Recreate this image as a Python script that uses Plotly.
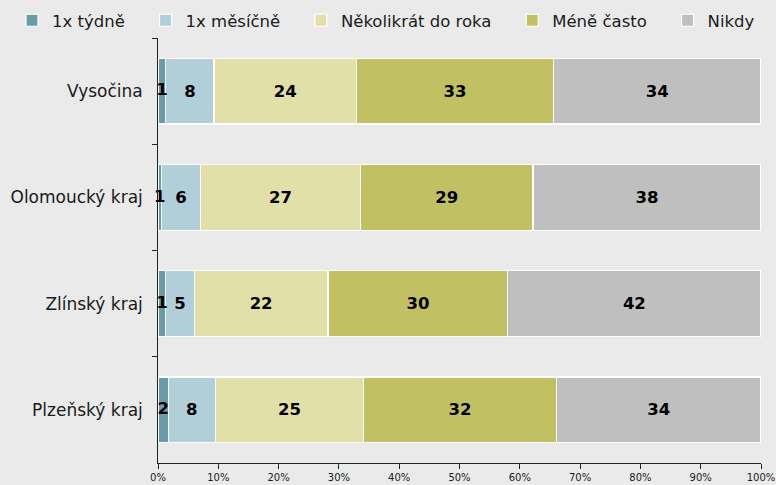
import plotly.graph_objects as go

# Regions, listed top to bottom
regions = ["Vysočina", "Olomoucký kraj", "Zlínský kraj", "Plzeňský kraj"]

# Share of respondents (%) per answer
weekly = [1.3, 0.6, 1.3, 1.7]
monthly = [8.0, 6.4, 4.7, 7.8]
few_times_year = [23.6, 26.6, 22.2, 24.6]
less_often = [32.7, 28.6, 29.8, 32.0]
never = [34.4, 37.8, 42.0, 33.9]

series_names = ["1x týdně", "1x měsíčně", "Několikrát do roka", "Méně často", "Nikdy"]
series_values = [weekly, monthly, few_times_year, less_often, never]
series_colors = ["#6A9BA8", "#B0CFD8", "#E1E0A8", "#C1C062", "#BFBFBF"]

tick_vals = list(range(0, 101, 10))
tick_text = [f"{v}%" for v in tick_vals]

W, H = 776, 485
M_L, M_R, M_T, M_B = 158, 15, 38, 22
plot_w = W - M_L - M_R
plot_h = H - M_T - M_B

LABEL_FONT = dict(color="black", size=16.5, family="DejaVu Sans")

# extra spacing after each legend entry (none after the last one)
legend_pad = "\u00a0" * 3

fig = go.Figure()
for i, (name, vals, color) in enumerate(zip(series_names, series_values, series_colors)):
    pad = legend_pad if i < len(series_names) - 1 else ""
    # the narrow first segment gets its label from a text layer on top (below)
    labels = [f"<b>{v:.0f}</b>" for v in vals] if i > 0 else None
    fig.add_trace(go.Bar(
        y=regions,
        x=vals,
        name=name + pad,
        orientation="h",
        marker=dict(color=color, line=dict(color="white", width=1.2)),
        text=labels,
        textposition="inside",
        insidetextanchor="middle",
        textangle=0,
        constraintext="none",
        cliponaxis=False,
        insidetextfont=LABEL_FONT,
        hovertemplate=name + ": %{x}%<extra>%{y}</extra>",
    ))

# labels of the narrow "1x týdně" segments, drawn above the neighbouring bars
fig.add_trace(go.Scatter(
    x=[v / 2 for v in weekly],
    y=regions,
    mode="text",
    text=[f"<b>{v:.0f}</b>" for v in weekly],
    textfont=LABEL_FONT,
    textposition="middle center",
    showlegend=False,
    hoverinfo="skip",
    cliponaxis=False,
))

fig.update_layout(
    barmode="stack",
    bargap=0.38,
    width=W,
    height=H,
    paper_bgcolor="#EAEAEA",
    plot_bgcolor="#EAEAEA",
    font=dict(family="DejaVu Sans", size=16.5, color="#1a1a1a"),
    margin=dict(l=M_L, r=M_R, t=M_T, b=M_B, autoexpand=False),
    uniformtext=dict(minsize=16.5, mode="show"),
    legend=dict(
        orientation="h",
        x=(12 - M_L) / plot_w, xref="paper",
        y=1 + (M_T - 3) / plot_h, yref="paper",
        yanchor="top",
        xanchor="left",
        font=dict(size=16.5),
        bgcolor="rgba(0,0,0,0)",
        traceorder="normal",
    ),
    xaxis=dict(
        range=[0, 100],
        tickvals=tick_vals,
        ticktext=tick_text,
        ticks="outside",
        ticklen=5,
        tickcolor="#222",
        showline=True,
        linecolor="#222",
        linewidth=1,
        showgrid=False,
        zeroline=False,
        tickfont=dict(size=10),
        fixedrange=True,
    ),
    yaxis=dict(
        autorange="reversed",
        ticks="outside",
        tickson="boundaries",
        ticklen=5,
        tickcolor="#222",
        showline=True,
        linecolor="#222",
        linewidth=1,
        showgrid=False,
        tickfont=dict(size=17),
        ticksuffix="  ",
    ),
)

fig.write_html("out.html")
